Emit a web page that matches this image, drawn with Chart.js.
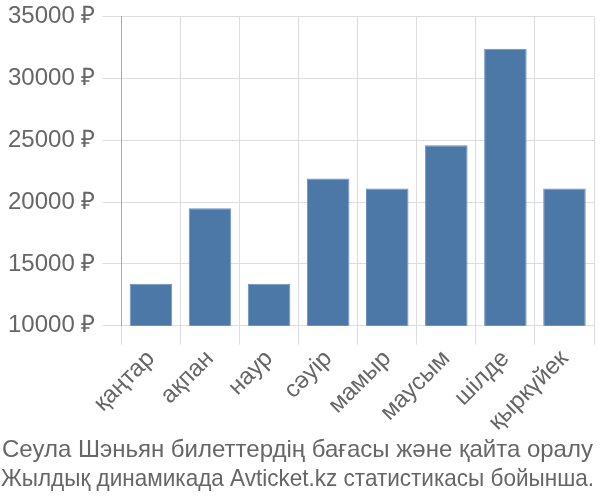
<!DOCTYPE html>
<html>
<head>
<meta charset="utf-8">
<script src="https://cdn.jsdelivr.net/npm/chart.js@4"></script>
<style>
  html, body { margin: 0; padding: 0; background: #fff; }
  #wrap { width: 600px; height: 500px; }
</style>
</head>
<body>
<div id="wrap"><canvas id="grafico"></canvas></div>
<script>
const meses = ['қаңтар', 'ақпан', 'наур', 'сәуір', 'мамыр', 'маусым', 'шілде', 'қыркүйек'];
const precos = [13400, 19500, 13400, 21900, 21100, 24600, 32400, 21100];
const titulo = ['Сеула Шэньян билеттердің бағасы және қайта оралу', 'Жылдық динамикада Avticket.kz статистикасы бойынша.'];

Chart.defaults.font.family = '"Liberation Sans", Arial, sans-serif';
Chart.defaults.color = '#666';

const ctx = document.getElementById('grafico').getContext('2d');
const chart = new Chart(ctx, {
    type: 'bar',
    data: {
        labels: meses,
        datasets: [{
            data: precos,
            backgroundColor: '#4c78a8',
            borderColor: '#6d91bd',
            borderWidth: 1
        }]
    },
    options: {
        responsive: true,
        maintainAspectRatio: false,
        animation: false,
        layout: { padding: { top: 0, right: 6, left: 1, bottom: 2 } },
        plugins: {
            legend: { display: false },
            tooltip: { enabled: false },
            title: {
                display: true,
                position: 'bottom',
                text: titulo,
                color: '#666',
                font: { size: 24, weight: 'normal' },
                padding: { top: 0, bottom: 4 }
            }
        },
        scales: {
            x: {
                grid: { color: '#ddd', tickLength: 19, offset: true },
                border: { color: '#ddd' },
                ticks: {
                    font: { size: 24 },
                    maxRotation: 45,
                    minRotation: 45,
                    padding: 0,
                    color: '#666'
                }
            },
            y: {
                min: 10000,
                max: 35000,
                grid: { color: '#ddd', tickLength: 19 },
                border: { color: '#aaa' },
                ticks: {
                    stepSize: 5000,
                    font: { size: 24, lineHeight: 0.8 },
                    color: '#666',
                    padding: 7,
                    callback: function(value) {
                        return value + ' ₽';
                    }
                }
            }
        }
    }
});
</script>
</body>
</html>
